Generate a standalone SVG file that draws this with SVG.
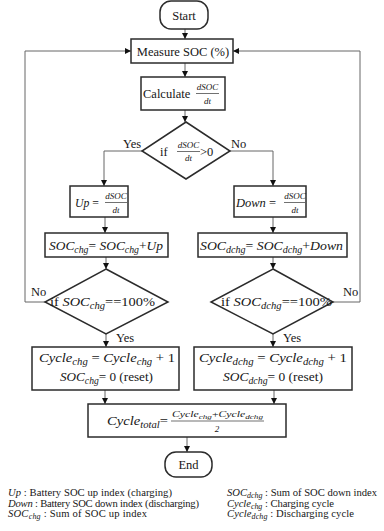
<svg xmlns="http://www.w3.org/2000/svg" width="384" height="531" viewBox="0 0 384 531">
  <style>
    .box { fill: #fff; stroke: #2b2b2b; stroke-width: 1.5; }
    .ln { fill: none; stroke: #666; stroke-width: 1; }
    .fr { stroke: #333; stroke-width: 0.7; }
    text { font-family: "Liberation Serif", "Times New Roman", serif; font-size: 12.5px; fill: #161616; }
    .m { font-size: 13px; }
    .i { font-style: italic; }
    .sb { font-size: 9.5px; }
    .f { font-size: 9px; font-style: italic; }
    .lg { font-size: 10.6px; }
    .lgs { font-size: 8px; }
    .c { text-anchor: middle; }
  </style>
  <defs>
    <marker id="ah" viewBox="0 0 8 8" refX="8" refY="4" markerWidth="6" markerHeight="6" orient="auto" markerUnits="userSpaceOnUse">
      <path d="M0,0 L8,4 L0,8 z" fill="#111"/>
    </marker>
  </defs>

  <!-- connectors -->
  <g id="connectors">
    <path class="ln" d="M185,29 V39" marker-end="url(#ah)"/>
    <path class="ln" d="M185,63 V77" marker-end="url(#ah)"/>
    <path class="ln" d="M185,110 V122" marker-end="url(#ah)"/>
    <path class="ln" d="M142,151 H104 V186" marker-end="url(#ah)"/>
    <path class="ln" d="M230,151 H273 V186" marker-end="url(#ah)"/>
    <path class="ln" d="M105,217 V233" marker-end="url(#ah)"/>
    <path class="ln" d="M273,217 V233" marker-end="url(#ah)"/>
    <path class="ln" d="M106,257 V269" marker-end="url(#ah)"/>
    <path class="ln" d="M273,257 V269" marker-end="url(#ah)"/>
    <path class="ln" d="M45,302 H25 V51 H131" marker-end="url(#ah)"/>
    <path class="ln" d="M333,302 H360 V51 H233" marker-end="url(#ah)"/>
    <path class="ln" d="M106,334 V347" marker-end="url(#ah)"/>
    <path class="ln" d="M273,334 V347" marker-end="url(#ah)"/>
    <path class="ln" d="M105,390 V404" marker-end="url(#ah)"/>
    <path class="ln" d="M274,390 V404" marker-end="url(#ah)"/>
    <path class="ln" d="M187,437 V452" marker-end="url(#ah)"/>
    <text x="123" y="148">Yes</text>
    <text x="231" y="148">No</text>
    <text x="31" y="296">No</text>
    <text x="343" y="296">No</text>
    <text x="116" y="342">Yes</text>
    <text x="283" y="342">Yes</text>
  </g>

  <g id="start">
    <rect class="box" x="160" y="1" width="48" height="28" rx="11"/>
    <text class="c" x="184" y="19.5">Start</text>
  </g>

  <g id="measure">
    <rect class="box" x="131" y="39" width="102" height="24"/>
    <text class="c" x="183" y="55.5">Measure SOC (%)</text>
  </g>

  <g id="calculate">
    <rect class="box" x="141" y="77" width="84" height="33"/>
    <text x="143" y="98">Calculate</text>
    <text class="f c" x="207.5" y="90">dSOC</text>
    <line class="fr" x1="196" y1="93.5" x2="219" y2="93.5"/>
    <text class="f c" x="207.5" y="104">dt</text>
  </g>

  <g id="sign-check">
    <polygon class="box" points="186,122 230,151 186,179 142,151"/>
    <text x="160" y="156">if</text>
    <text class="f c" x="188.5" y="148">dSOC</text>
    <line class="fr" x1="177" y1="151.5" x2="200" y2="151.5"/>
    <text class="f c" x="188.5" y="161">dt</text>
    <text x="200" y="156">&gt;0</text>
  </g>

  <g id="up">
    <rect class="box" x="70" y="186" width="58" height="31"/>
    <text class="m" x="75" y="207" textLength="24" lengthAdjust="spacingAndGlyphs"><tspan class="i">Up</tspan> =</text>
    <text class="f c" x="116" y="199">dSOC</text>
    <line class="fr" x1="105" y1="202.5" x2="127" y2="202.5"/>
    <text class="f c" x="116" y="213">dt</text>
  </g>

  <g id="down">
    <rect class="box" x="234" y="186" width="72" height="31"/>
    <text x="236" y="207" font-size="12"><tspan class="i">Down</tspan> =</text>
    <text class="f c" x="295" y="199">dSOC</text>
    <line class="fr" x1="284" y1="202.5" x2="305" y2="202.5"/>
    <text class="f c" x="295" y="213">dt</text>
  </g>

  <g id="soc-chg">
    <rect class="box" x="45" y="233" width="123" height="24"/>
    <text class="m i" x="49" y="250" textLength="114" lengthAdjust="spacingAndGlyphs">SOC<tspan class="sb" dy="3">chg</tspan><tspan dy="-3" font-style="normal">= </tspan>SOC<tspan class="sb" dy="3">chg</tspan><tspan dy="-3" font-style="normal">+</tspan>Up</text>
  </g>

  <g id="soc-dchg">
    <rect class="box" x="198" y="233" width="149" height="24"/>
    <text class="m i" x="200" y="250" textLength="143" lengthAdjust="spacingAndGlyphs">SOC<tspan class="sb" dy="3">dchg</tspan><tspan dy="-3" font-style="normal">= </tspan>SOC<tspan class="sb" dy="3">dchg</tspan><tspan dy="-3" font-style="normal">+</tspan>Down</text>
  </g>

  <g id="full-chg">
    <polygon class="box" points="106,269 168,302 106,334 45,302"/>
    <text class="m" x="50" y="306" textLength="105" lengthAdjust="spacingAndGlyphs">if  <tspan class="i">SOC</tspan><tspan class="i sb" dy="3">chg</tspan><tspan dy="-3">==100%</tspan></text>
  </g>

  <g id="full-dchg">
    <polygon class="box" points="273,269 333,302 273,334 211,302"/>
    <text class="m" x="221" y="306" textLength="111" lengthAdjust="spacingAndGlyphs">if  <tspan class="i">SOC</tspan><tspan class="i sb" dy="3">dchg</tspan><tspan dy="-3">==100%</tspan></text>
  </g>

  <g id="cycle-chg">
    <rect class="box" x="32" y="347" width="147" height="43"/>
    <text class="m" x="39" y="362" textLength="136" lengthAdjust="spacingAndGlyphs"><tspan class="i">Cycle</tspan><tspan class="i sb" dy="3">chg</tspan><tspan dy="-3"> = </tspan><tspan class="i">Cycle</tspan><tspan class="i sb" dy="3">chg</tspan><tspan dy="-3"> + 1</tspan></text>
    <text class="m" x="60" y="381" textLength="93" lengthAdjust="spacingAndGlyphs"><tspan class="i">SOC</tspan><tspan class="i sb" dy="3">chg</tspan><tspan dy="-3">= 0 (reset)</tspan></text>
  </g>

  <g id="cycle-dchg">
    <rect class="box" x="194" y="347" width="158" height="43"/>
    <text class="m" x="199" y="362" textLength="148" lengthAdjust="spacingAndGlyphs"><tspan class="i">Cycle</tspan><tspan class="i sb" dy="3">dchg</tspan><tspan dy="-3"> = </tspan><tspan class="i">Cycle</tspan><tspan class="i sb" dy="3">dchg</tspan><tspan dy="-3"> + 1</tspan></text>
    <text class="m" x="223" y="381" textLength="100" lengthAdjust="spacingAndGlyphs"><tspan class="i">SOC</tspan><tspan class="i sb" dy="3">dchg</tspan><tspan dy="-3">= 0 (reset)</tspan></text>
  </g>

  <g id="cycle-total">
    <rect class="box" x="88" y="404" width="198" height="33"/>
    <text class="m" x="107" y="425" textLength="61" lengthAdjust="spacingAndGlyphs"><tspan class="i">Cycle</tspan><tspan class="i sb" dy="3">total</tspan><tspan dy="-3">=</tspan></text>
    <text class="f" x="172" y="417" textLength="91" lengthAdjust="spacingAndGlyphs">Cycle<tspan font-size="7" dy="2">chg</tspan><tspan dy="-2" font-style="normal">+</tspan>Cycle<tspan font-size="7" dy="2">dchg</tspan></text>
    <line class="fr" x1="171" y1="421" x2="264" y2="421"/>
    <text class="c f" x="217" y="432" font-style="normal">2</text>
  </g>

  <g id="end">
    <rect class="box" x="165" y="452" width="47" height="25" rx="11"/>
    <text class="c" x="188.5" y="469">End</text>
  </g>

  <g id="legend">
    <text class="lg" x="8" y="496" textLength="164"><tspan class="i">Up</tspan> : Battery SOC up index (charging)</text>
    <text class="lg" x="8" y="506.5" textLength="191"><tspan class="i">Down</tspan> : Battery SOC down index (discharging)</text>
    <text class="lg" x="8" y="517" textLength="139"><tspan class="i">SOC</tspan><tspan class="i lgs" dy="2">chg</tspan><tspan dy="-2"> : Sum of SOC up index</tspan></text>
    <text class="lg" x="227" y="496" textLength="150"><tspan class="i">SOC</tspan><tspan class="i lgs" dy="2">dchg</tspan><tspan dy="-2"> : Sum of SOC down index</tspan></text>
    <text class="lg" x="227" y="506.5" textLength="107"><tspan class="i">Cycle</tspan><tspan class="i lgs" dy="2">chg</tspan><tspan dy="-2"> : Charging cycle</tspan></text>
    <text class="lg" x="227" y="517" textLength="127"><tspan class="i">Cycle</tspan><tspan class="i lgs" dy="2">dchg</tspan><tspan dy="-2"> : Discharging cycle</tspan></text>
  </g>
</svg>
